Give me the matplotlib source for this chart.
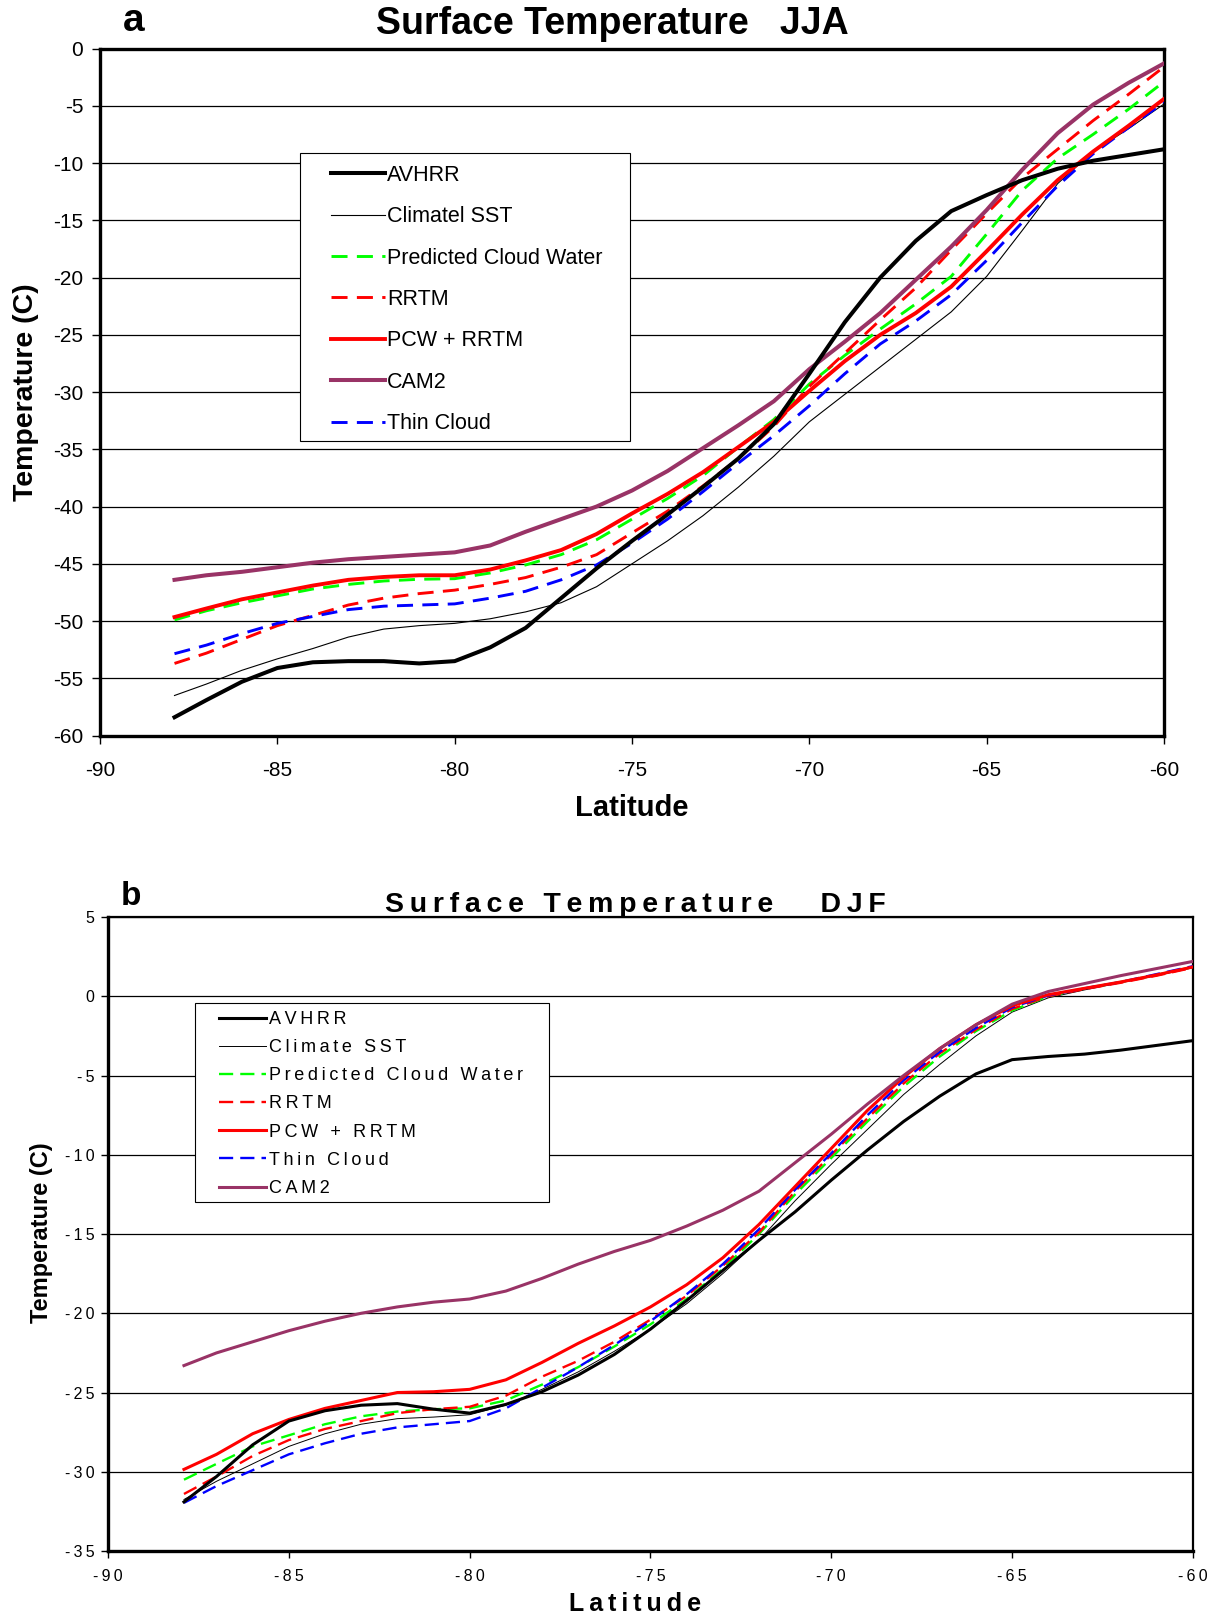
import matplotlib
matplotlib.use("Agg")
import matplotlib.pyplot as plt
from matplotlib.patches import Rectangle

plt.rcParams['axes.unicode_minus'] = False

# latitudes (same grid for both seasons)
lat = [-87.9, -87, -86, -85, -84, -83, -82, -81, -80, -79, -78, -77, -76, -75, -74,
       -73, -72, -71, -70, -69, -68, -67, -66, -65, -64, -63, -62, -61, -60]

# JJA surface temperature (C)
avhrr_jja = [-58.4, -56.9, -55.3, -54.1, -53.6, -53.5, -53.5, -53.7, -53.5, -52.3, -50.6, -48.0,
             -45.4, -43.0, -40.7, -38.3, -35.8, -32.8, -28.4, -23.9, -20.0, -16.8, -14.2, -12.8,
             -11.5, -10.5, -9.8, -9.3, -8.8]
sst_jja = [-56.5, -55.5, -54.3, -53.3, -52.4, -51.4, -50.7, -50.4, -50.2, -49.8, -49.2, -48.4,
           -47.0, -45.0, -43.0, -40.8, -38.3, -35.6, -32.6, -30.2, -27.8, -25.4, -23.0, -19.9,
           -15.9, -11.8, -9.0, -7.0, -4.85]
pcw_jja = [-49.9, -49.1, -48.4, -47.8, -47.2, -46.8, -46.5, -46.35, -46.3, -45.8, -45.1, -44.2,
           -42.9, -41.1, -39.3, -37.3, -34.8, -32.4, -29.3, -26.8, -24.5, -22.3, -19.9, -16.2,
           -12.4, -9.6, -7.5, -5.3, -2.9]
rrtm_jja = [-53.7, -52.8, -51.6, -50.4, -49.5, -48.6, -48.0, -47.6, -47.3, -46.8, -46.2, -45.3,
            -44.2, -42.3, -40.4, -38.2, -35.8, -33.0, -29.5, -26.6, -23.7, -20.9, -17.6, -14.4,
            -11.3, -8.8, -6.3, -4.0, -1.6]
pcw_rrtm_jja = [-49.65, -48.9, -48.1, -47.5, -46.9, -46.4, -46.15, -46.0, -46.0, -45.5, -44.7,
                -43.8, -42.4, -40.6, -38.9, -37.0, -34.8, -32.6, -29.9, -27.3, -25.0, -23.1,
                -20.8, -17.7, -14.5, -11.5, -9.0, -6.75, -4.4]
cam2_jja = [-46.4, -46.0, -45.7, -45.3, -44.9, -44.6, -44.4, -44.2, -44.0, -43.4, -42.2, -41.1,
            -40.0, -38.6, -36.9, -34.9, -32.9, -30.8, -28.0, -25.6, -23.1, -20.2, -17.3, -14.1,
            -10.6, -7.4, -4.9, -3.0, -1.3]
thin_jja = [-52.85, -52.1, -51.1, -50.2, -49.6, -49.0, -48.7, -48.6, -48.5, -48.0, -47.4, -46.4,
            -45.1, -43.2, -41.1, -38.7, -36.2, -33.8, -31.2, -28.4, -25.8, -23.8, -21.5, -18.5,
            -15.2, -12.0, -9.2, -6.9, -4.7]

# DJF surface temperature (C)
avhrr_djf = [-31.9, -30.3, -28.3, -26.8, -26.15, -25.8, -25.7, -26.05, -26.3, -25.75, -24.95,
             -23.9, -22.6, -21.0, -19.2, -17.3, -15.4, -13.6, -11.6, -9.7, -7.9, -6.3, -4.9,
             -4.0, -3.8, -3.65, -3.4, -3.1, -2.8]
sst_djf = [-31.75, -30.6, -29.5, -28.4, -27.6, -27.0, -26.65, -26.55, -26.4, -25.8, -24.8, -23.7,
           -22.4, -21.0, -19.4, -17.5, -15.4, -12.9, -10.6, -8.4, -6.2, -4.3, -2.5, -1.0, -0.1,
           0.4, 0.85, 1.3, 1.8]
pcw_djf = [-30.5, -29.5, -28.4, -27.7, -27.0, -26.5, -26.2, -26.05, -26.0, -25.5, -24.5, -23.4,
           -22.1, -20.7, -19.1, -17.2, -15.0, -12.5, -10.2, -7.9, -5.7, -3.8, -2.2, -0.9, 0.0,
           0.5, 0.9, 1.35, 1.85]
rrtm_djf = [-31.4, -30.3, -29.0, -28.0, -27.3, -26.8, -26.3, -26.05, -25.9, -25.2, -24.0, -23.0,
            -21.8, -20.4, -18.9, -17.0, -14.9, -12.3, -10.0, -7.7, -5.5, -3.6, -2.1, -0.8, 0.0,
            0.45, 0.85, 1.3, 1.8]
pcw_rrtm_djf = [-29.85, -28.9, -27.6, -26.7, -26.0, -25.5, -25.0, -24.95, -24.8, -24.2, -23.1,
                -21.9, -20.8, -19.6, -18.2, -16.5, -14.4, -12.0, -9.6, -7.2, -5.1, -3.3, -1.8,
                -0.6, 0.1, 0.5, 0.9, 1.35, 1.85]
thin_djf = [-31.96, -30.9, -29.9, -28.9, -28.2, -27.6, -27.2, -27.0, -26.8, -26.0, -24.7, -23.4,
            -22.0, -20.5, -18.8, -16.9, -14.7, -12.2, -9.9, -7.5, -5.3, -3.5, -2.0, -0.7, 0.05,
            0.5, 0.9, 1.4, 1.9]
cam2_djf = [-23.3, -22.5, -21.8, -21.1, -20.5, -20.0, -19.6, -19.3, -19.1, -18.6, -17.8, -16.9,
            -16.1, -15.4, -14.5, -13.5, -12.3, -10.5, -8.7, -6.8, -5.0, -3.3, -1.8, -0.5, 0.3,
            0.8, 1.3, 1.75, 2.2]

xticks = [-90, -85, -80, -75, -70, -65, -60]
yticks_jja = list(range(-60, 1, 5))
yticks_djf = list(range(-35, 6, 5))

ARIAL = ['Liberation Sans', 'DejaVu Sans']
PLUM = '#993366'
GREEN = '#00ff00'


def spaced(s):
    # Excel-style letter spacing
    return '\u2009'.join(s)


fig = plt.figure(figsize=(12.11, 16.17), dpi=100)

# ---------------- panel a : JJA ----------------
ax1 = fig.add_axes([0.0826, 0.5451, 0.8786, 0.4249])
ax1.plot(lat, sst_jja, color='black', lw=0.8, label='Climatel SST', zorder=3)
ax1.plot(lat, pcw_jja, color=GREEN, lw=2.1, ls=(0, (5.5, 3.2)), label='Predicted Cloud Water', zorder=3)
ax1.plot(lat, rrtm_jja, color='red', lw=2.1, ls=(0, (5.5, 3.2)), label='RRTM', zorder=3)
ax1.plot(lat, thin_jja, color='blue', lw=2.1, ls=(0, (5.5, 3.2)), label='Thin Cloud', zorder=3)
ax1.plot(lat, pcw_rrtm_jja, color='red', lw=2.8, label='PCW + RRTM', zorder=4)
ax1.plot(lat, cam2_jja, color=PLUM, lw=2.9, label='CAM2', zorder=4)
ax1.plot(lat, avhrr_jja, color='black', lw=2.9, label='AVHRR', zorder=5)

ax1.set_xlim(-90, -60)
ax1.set_ylim(-60, 0)
ax1.set_xticks(xticks)
ax1.set_yticks(yticks_jja)
ax1.yaxis.grid(True, color='black', lw=0.9)
ax1.set_axisbelow(True)
for sp in ax1.spines.values():
    sp.set_linewidth(2.4)
    sp.set_color('black')
ax1.tick_params(direction='out', length=6, width=1, pad=6)
for lab in ax1.get_xticklabels() + ax1.get_yticklabels():
    lab.set_family(ARIAL)
    lab.set_fontsize(15)
ax1.tick_params(axis='x', pad=12)

# legend box drawn by hand so the padding matches
ax1.add_patch(Rectangle((0.1875, 0.4287), 0.3105, 0.4193, transform=ax1.transAxes,
                        facecolor='white', edgecolor='black', lw=0.8, zorder=9))
h, l = ax1.get_legend_handles_labels()
order_a = ['AVHRR', 'Climatel SST', 'Predicted Cloud Water', 'RRTM', 'PCW + RRTM', 'CAM2', 'Thin Cloud']
hd = dict(zip(l, h))
leg1 = ax1.legend([hd[k] for k in order_a], order_a, loc='upper left',
                  bbox_to_anchor=(0.217, 0.831), frameon=False,
                  prop={'family': ARIAL, 'size': 15.5},
                  handlelength=2.5, handletextpad=0.1, labelspacing=0.95,
                  borderpad=0, borderaxespad=0)
leg1.set_zorder(10)

fig.text(0.506, 0.985, 'Surface Temperature   JJA', ha='center', va='center',
         fontsize=27, fontweight='bold', family=ARIAL)
fig.text(0.110, 0.987, 'a', ha='center', va='center', fontsize=28, fontweight='bold', family=ARIAL)
fig.text(0.522, 0.5003, 'Latitude', ha='center', va='center', fontsize=21,
         fontweight='bold', family=ARIAL)
fig.text(0.0213, 0.7576, 'Temperature (C)', ha='center', va='center', rotation=90,
         fontsize=20.5, fontweight='bold', family=ARIAL)

# ---------------- panel b : DJF ----------------
ax2 = fig.add_axes([0.0892, 0.0408, 0.8959, 0.3921])
ax2.plot(lat, sst_djf, color='black', lw=0.7, label='Climate SST', zorder=3)
ax2.plot(lat, pcw_djf, color=GREEN, lw=1.7, ls=(0, (6, 3)), label='Predicted Cloud Water', zorder=3)
ax2.plot(lat, rrtm_djf, color='red', lw=1.7, ls=(0, (6, 3)), label='RRTM', zorder=3)
ax2.plot(lat, thin_djf, color='blue', lw=1.7, ls=(0, (6, 3)), label='Thin Cloud', zorder=3)
ax2.plot(lat, pcw_rrtm_djf, color='red', lw=2.2, label='PCW + RRTM', zorder=4)
ax2.plot(lat, cam2_djf, color=PLUM, lw=2.2, label='CAM2', zorder=4)
ax2.plot(lat, avhrr_djf, color='black', lw=2.2, label='AVHRR', zorder=5)

ax2.set_xlim(-90, -60)
ax2.set_ylim(-35, 5)
ax2.set_xticks(xticks)
ax2.set_yticks(yticks_djf)
ax2.set_xticklabels([spaced(str(t)) for t in xticks])
ax2.set_yticklabels([spaced(str(t)) for t in yticks_djf])
ax2.yaxis.grid(True, color='black', lw=0.9)
ax2.set_axisbelow(True)
for sp in ax2.spines.values():
    sp.set_linewidth(1.6)
    sp.set_color('black')
ax2.spines['left'].set_linewidth(2.4)
ax2.spines['bottom'].set_linewidth(2.4)
ax2.tick_params(direction='out', length=5, width=1, pad=5)
for lab in ax2.get_xticklabels() + ax2.get_yticklabels():
    lab.set_family(ARIAL)
    lab.set_fontsize(11.5)
ax2.tick_params(axis='x', pad=8)

ax2.add_patch(Rectangle((0.0802, 0.5505), 0.3262, 0.3135, transform=ax2.transAxes,
                        facecolor='white', edgecolor='black', lw=0.8, zorder=9))
h, l = ax2.get_legend_handles_labels()
order_b = ['AVHRR', 'Climate SST', 'Predicted Cloud Water', 'RRTM', 'PCW + RRTM', 'Thin Cloud', 'CAM2']
hd = dict(zip(l, h))
leg2 = ax2.legend([hd[k] for k in order_b], [spaced(k) for k in order_b], loc='upper left',
                  bbox_to_anchor=(0.102, 0.852), frameon=False,
                  prop={'family': ARIAL, 'size': 13},
                  handlelength=2.6, handletextpad=0.2, labelspacing=0.62,
                  borderpad=0, borderaxespad=0)
leg2.set_zorder(10)

fig.text(0.525, 0.4403, spaced('Surface Temperature') + '      ' + spaced('DJF'),
         ha='center', va='center', fontsize=20.5, fontweight='bold', family=ARIAL)
fig.text(0.108, 0.4458, 'b', ha='center', va='center', fontsize=24, fontweight='bold', family=ARIAL)
fig.text(0.5245, 0.008, spaced('Latitude'), ha='center', va='center', fontsize=18,
         fontweight='bold', family=ARIAL)
fig.text(0.034, 0.2377, 'Temperature (C)', ha='center', va='center', rotation=90,
         fontsize=17, fontweight='bold', family=ARIAL)

fig.savefig('out.png', dpi=100)
